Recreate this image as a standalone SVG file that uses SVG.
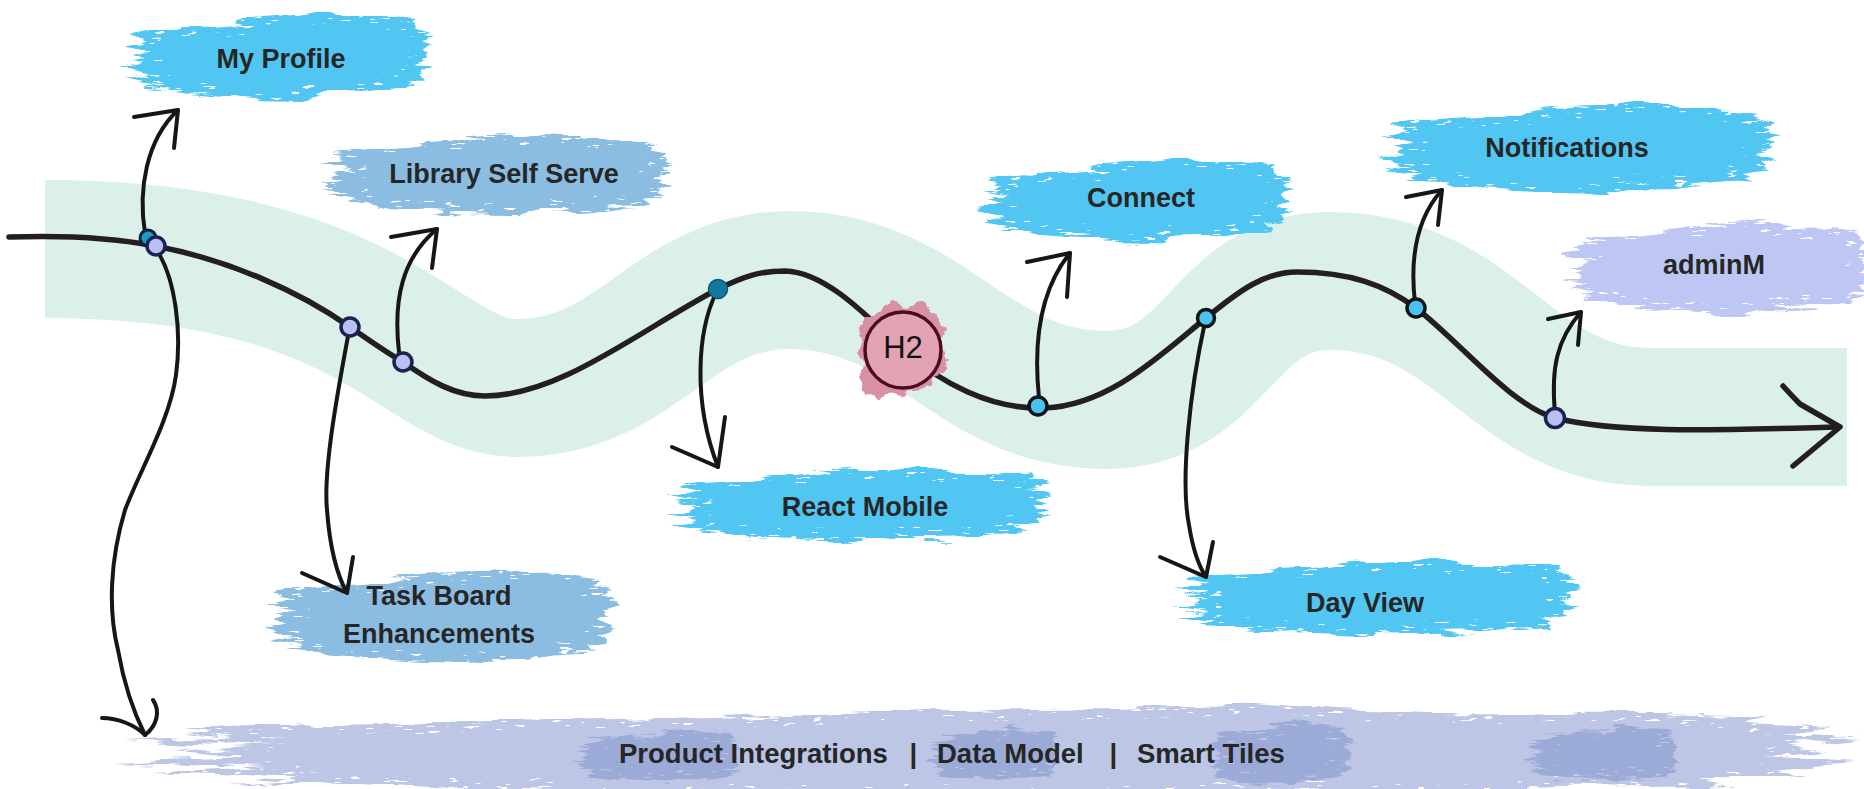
<svg xmlns="http://www.w3.org/2000/svg" width="1864" height="789" viewBox="0 0 1864 789">
<defs>
<style>
.brush-cyan{fill:#52C6F2}
.brush-blue{fill:#8BBDE3}
.brush-lav{fill:#BEC6F3}
.bar{fill:#BDC6E4}
.bar-dark{fill:#97A6D5;opacity:0.85}
.lbl{font-family:"Liberation Sans",Arial,sans-serif;font-weight:bold;font-size:27px;fill:#262626;text-anchor:middle}
.lbl-bar{font-family:"Liberation Sans",Arial,sans-serif;font-weight:bold;font-size:27.5px;fill:#262626}
.conn{fill:none;stroke:#161616;stroke-width:4;stroke-linecap:round;stroke-linejoin:round}
.main{fill:none;stroke:#231F20;stroke-width:5.5;stroke-linecap:round;stroke-linejoin:round}
.band{fill:none;stroke:#DCF0EA;stroke-width:138;stroke-linecap:butt}
.dot-lav{fill:#B8C1F1;stroke:#1B2252;stroke-width:3.5}
.dot-cyan{fill:#4CC3EE;stroke:#0E1418;stroke-width:3.5}
</style>
<symbol id="brush" viewBox="0 0 400 100" preserveAspectRatio="none">
<path d="M 40,26 L 90,22 L 140,18 L 175,12 L 230,9 L 262,4 L 280,10 L 300,13 L 352,14 L 378,17 L 372,23 L 392,27 L 380,33 L 398,39 L 382,45 L 390,52 L 376,57 L 396,63 L 378,69 L 386,76 L 362,80 L 370,86 L 330,88 L 300,92 L 250,93 L 232,97 L 180,96 L 120,93 L 80,90 L 60,85 L 30,83 L 48,78 L 12,73 L 38,68 L 4,62 L 34,57 L 18,51 L 40,46 L 6,40 L 32,35 L 20,30 Z"/>
</symbol>
<filter id="rough1" x="-8%" y="-25%" width="116%" height="150%" color-interpolation-filters="sRGB">
<feTurbulence type="fractalNoise" baseFrequency="0.015 0.12" numOctaves="3" seed="2" result="n"/>
<feDisplacementMap in="SourceGraphic" in2="n" scale="16" xChannelSelector="R" yChannelSelector="G" result="d"/>
<feMorphology in="d" operator="erode" radius="14 9" result="inner"/>
<feTurbulence type="fractalNoise" baseFrequency="0.06 0.35" numOctaves="2" seed="9" result="s"/>
<feColorMatrix in="s" type="matrix" values="0 0 0 0 0 0 0 0 0 0 0 0 0 0 0 -22 0 0 0 16" result="m"/>
<feComposite in="m" in2="inner" operator="over" result="keep"/>
<feComposite in="d" in2="keep" operator="in"/>
</filter>
<filter id="rough2" x="-8%" y="-25%" width="116%" height="150%" color-interpolation-filters="sRGB">
<feTurbulence type="fractalNoise" baseFrequency="0.02 0.15" numOctaves="3" seed="5" result="n"/>
<feDisplacementMap in="SourceGraphic" in2="n" scale="16" xChannelSelector="R" yChannelSelector="G" result="d"/>
<feMorphology in="d" operator="erode" radius="14 9" result="inner"/>
<feTurbulence type="fractalNoise" baseFrequency="0.07 0.4" numOctaves="2" seed="13" result="s"/>
<feColorMatrix in="s" type="matrix" values="0 0 0 0 0 0 0 0 0 0 0 0 0 0 0 -22 0 0 0 16" result="m"/>
<feComposite in="m" in2="inner" operator="over" result="keep"/>
<feComposite in="d" in2="keep" operator="in"/>
</filter>
<filter id="blot" x="-20%" y="-20%" width="140%" height="140%" color-interpolation-filters="sRGB">
<feTurbulence type="fractalNoise" baseFrequency="0.08" numOctaves="3" seed="4" result="n"/>
<feDisplacementMap in="SourceGraphic" in2="n" scale="12" xChannelSelector="R" yChannelSelector="G"/>
</filter>
</defs>

<rect width="1864" height="789" fill="#FFFFFF"/>

<g id="band">
<path class="band" d="M 45,249 C 380,249 419,388 517,388 C 640,388 670,280 790,280 C 930,280 970,400 1105,400 C 1220,400 1220,281 1330,281 C 1480,281 1510,417 1650,417 L 1847,417"/>
</g>

<g id="node-bottom-bar">
<use href="#brush" class="bar" x="95" y="700" width="1775" height="100" filter="url(#rough1)"/>
<use href="#brush" class="bar-dark" x="572" y="726" width="170" height="58" filter="url(#rough2)"/>
<use href="#brush" class="bar-dark" x="926" y="724" width="135" height="60" filter="url(#rough2)"/>
<use href="#brush" class="bar-dark" x="1205" y="718" width="150" height="68" filter="url(#rough1)"/>
<use href="#brush" class="bar-dark" x="1525" y="722" width="155" height="62" filter="url(#rough2)"/>
<text class="lbl-bar" y="763"><tspan x="619">Product Integrations</tspan><tspan x="909.5">|</tspan><tspan x="937">Data Model</tspan><tspan x="1109.5">|</tspan><tspan x="1137">Smart Tiles</tspan></text>
</g>

<g id="node-my-profile">
<use href="#brush" class="brush-cyan" x="118" y="6" width="318" height="96" filter="url(#rough1)"/>
<text class="lbl" x="281" y="68">My Profile</text>
</g>

<g id="node-library-self-serve">
<use href="#brush" class="brush-blue" x="316" y="128" width="360" height="90" filter="url(#rough2)"/>
<text class="lbl" x="504" y="183">Library Self Serve</text>
</g>

<g id="node-task-board">
<use href="#brush" class="brush-blue" x="258" y="562" width="362" height="104" filter="url(#rough1)"/>
<text class="lbl" x="439" y="605">Task Board</text>
<text class="lbl" x="439" y="643">Enhancements</text>
</g>

<g id="node-react-mobile">
<use href="#brush" class="brush-cyan" x="661" y="462" width="394" height="82" filter="url(#rough2)"/>
<text class="lbl" x="865" y="516">React Mobile</text>
</g>

<g id="node-connect">
<use href="#brush" class="brush-cyan" x="974" y="152" width="322" height="92" filter="url(#rough1)"/>
<text class="lbl" x="1141" y="207">Connect</text>
</g>

<g id="node-day-view">
<use href="#brush" class="brush-cyan" x="1168" y="554" width="415" height="84" filter="url(#rough2)"/>
<text class="lbl" x="1365" y="612">Day View</text>
</g>

<g id="node-notifications">
<use href="#brush" class="brush-cyan" x="1373" y="95" width="410" height="100" filter="url(#rough1)"/>
<text class="lbl" x="1567" y="157">Notifications</text>
</g>

<g id="node-adminm">
<use href="#brush" class="brush-lav" x="1557" y="215" width="320" height="102" filter="url(#rough2)"/>
<text class="lbl" x="1714" y="274">adminM</text>
</g>

<g id="timeline">
<path class="main" d="M 9,237 C 70,235 120,239 155,246 C 230,260 300,292 350,327 C 370,341 386,352 403,362 C 430,381 455,396 485,396 C 560,396 640,330 718,289 C 745,276 760,271 785,271 C 830,272 878,328 903,350 C 940,382 990,410 1045,408 C 1110,405 1160,355 1206,318 C 1240,290 1265,272 1297,272 C 1350,272 1385,285 1416,308 C 1460,342 1510,405 1555,418 C 1620,434 1720,430 1838,427"/>
<path class="main" d="M 1783,386 Q 1792,396 1800,404 L 1840,427 L 1793,466"/>
</g>

<g id="connectors">
<path class="conn" d="M 145,233 C 138,190 146,140 178,110"/>
<path class="conn" d="M 134,117 L 178,110 L 174,148"/>
<path class="conn" stroke-width="3.5" d="M 158,252 C 175,280 182,330 176,375 C 170,420 140,470 125,510 C 110,560 108,610 118,650 C 125,690 135,715 145,735"/>
<path class="conn" stroke-width="3.5" d="M 102,718 C 118,718 135,725 145,735 M 153,700 C 160,710 158,725 145,735"/>
<path class="conn" d="M 399,352 C 393,300 402,258 437,229"/>
<path class="conn" d="M 391,237 L 437,229 L 432,268"/>
<path class="conn" d="M 348,336 C 338,390 323,470 327,510 C 330,550 337,575 347,593"/>
<path class="conn" d="M 302,573 L 347,593 L 353,557"/>
<path class="conn" d="M 716,293 C 698,330 692,400 718,467"/>
<path class="conn" d="M 672,447 L 718,467 L 725,417"/>
<path class="conn" d="M 1039,398 C 1033,340 1040,290 1070,253"/>
<path class="conn" d="M 1027,262 L 1070,253 L 1067,297"/>
<path class="conn" d="M 1205,322 C 1190,390 1180,480 1189,525 C 1193,550 1198,565 1206,577"/>
<path class="conn" d="M 1160,557 L 1206,577 L 1213,542"/>
<path class="conn" d="M 1415,303 C 1410,260 1415,220 1442,190"/>
<path class="conn" d="M 1406,197 L 1442,190 L 1438,225"/>
<path class="conn" d="M 1555,413 C 1551,370 1556,340 1581,312"/>
<path class="conn" d="M 1548,319 L 1581,312 L 1578,345"/>
</g>

<g id="milestones">
<circle cx="148" cy="238" r="8" fill="#1A9BC9" stroke="#0F2233" stroke-width="3"/>
<circle class="dot-lav" cx="156" cy="246" r="9"/>
<circle class="dot-lav" cx="350" cy="327" r="9"/>
<circle class="dot-lav" cx="403" cy="362" r="9"/>
<circle cx="718" cy="289" r="9.5" fill="#13789E" stroke="#0E5674" stroke-width="1.5"/>
<circle class="dot-cyan" cx="1038" cy="406" r="9"/>
<circle class="dot-cyan" cx="1206" cy="318" r="8.5"/>
<circle class="dot-cyan" cx="1416" cy="308" r="9"/>
<circle class="dot-lav" cx="1555" cy="418" r="9.5"/>
</g>

<g id="node-h2">
<path d="M 862,322 L 880,312 L 893,300 L 905,308 L 925,303 L 935,315 L 945,330 L 940,345 L 948,360 L 938,375 L 930,385 L 915,392 L 898,396 L 880,398 L 864,392 L 858,378 L 866,365 L 856,348 L 862,335 Z" fill="#D890A5" filter="url(#blot)"/>
<circle cx="903" cy="350" r="38" fill="#E2A3B4" stroke="#4A0C1E" stroke-width="3.5"/>
<text x="903" y="358" font-family="'Liberation Sans',Arial,sans-serif" font-size="31" fill="#111111" text-anchor="middle">H2</text>
</g>
</svg>
